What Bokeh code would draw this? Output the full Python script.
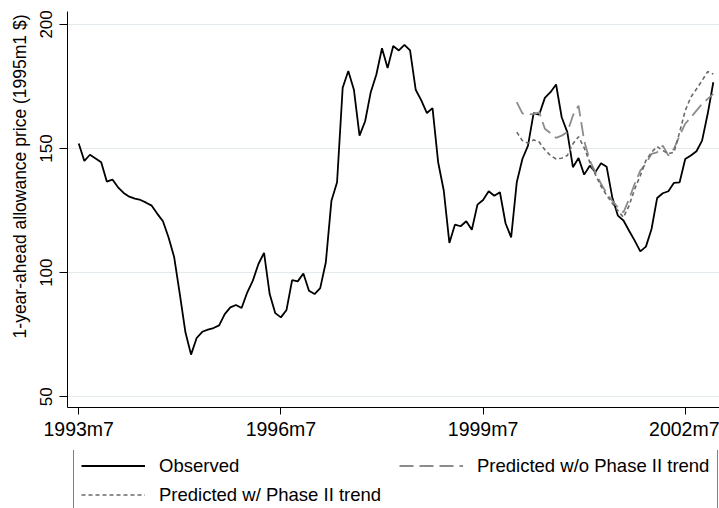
from bokeh.plotting import figure
from bokeh.layouts import column
from bokeh.models import Range1d, FixedTicker, Legend, LegendItem, Title
from bokeh.embed import file_html
from bokeh.resources import INLINE

# Monthly index (Stata %tm): 1993m7 = 402
start_month = 402
observed = [
    152.0, 145.0, 147.5, 146.0, 144.5, 136.7, 137.5, 134.4, 132.1, 130.6,
    129.8, 129.3, 128.2, 127.0, 123.7, 120.7, 114.2, 106.2, 91.4, 76.0,
    67.0, 73.7, 76.2, 77.1, 77.7, 78.8, 83.3, 86.0, 87.0, 85.8,
    92.0, 96.8, 103.5, 108.0, 91.4, 83.7, 82.0, 85.0, 97.0, 96.5,
    99.7, 92.7, 91.4, 93.8, 104.2, 129.0, 136.4, 174.5, 181.2, 173.7,
    155.2, 161.0, 172.7, 179.8, 190.4, 182.4, 191.3, 189.5, 191.8, 189.5,
    173.7, 169.4, 164.3, 166.3, 144.5, 133.1, 112.0, 119.4, 118.7, 120.7,
    117.3, 127.4, 129.3, 132.8, 131.0, 132.4, 119.9, 114.2, 136.4, 145.8,
    151.2, 164.3, 163.7, 170.4, 172.7, 175.8, 162.6, 156.6, 142.5, 146.2,
    139.5, 143.1, 140.5, 144.1, 142.7, 130.4, 123.0, 121.0, 116.9, 112.9,
    108.6, 110.5, 117.6, 130.1, 132.0, 132.8, 136.2, 136.4, 145.8, 147.2,
    148.9, 153.2, 164.0, 176.7,
]

# Predictions start in 2000m1 (= 480)
pred_start = 480
pred_wo_trend = [
    168.7, 164.2, 163.7, 164.0, 164.6, 158.0, 156.2, 154.3, 155.2, 156.6,
    163.3, 167.3, 153.2, 145.2, 140.5, 135.8, 132.0, 129.0, 126.3, 124.3,
    129.7, 135.8, 141.1, 143.9, 147.9, 148.5, 151.2, 147.2, 150.0, 155.2,
    160.0, 162.6, 165.3, 168.0, 170.0, 172.0,
]
pred_w_trend = [
    156.6, 153.2, 152.2, 153.5, 152.6, 149.5, 147.2, 145.8, 146.1, 147.2,
    151.9, 154.8, 150.3, 144.5, 139.5, 134.8, 131.2, 128.0, 125.0, 122.3,
    127.0, 133.7, 139.1, 145.2, 148.5, 150.8, 149.2, 147.9, 148.5, 156.6,
    165.3, 170.7, 174.0, 177.4, 181.0, 180.0,
]

x_ticks = [402, 438, 474, 510]
x_tick_labels = ["1993m7", "1996m7", "1999m7", "2002m7"]
y_ticks = [50, 100, 150, 200]
y_title = "1-year-ahead allowance price (1995m1 $)"
series_labels = ["Observed", "Predicted w/o Phase II trend", "Predicted w/ Phase II trend"]

months_obs = list(range(start_month, start_month + len(observed)))
months_pred = list(range(pred_start, pred_start + len(pred_wo_trend)))
series = [(months_obs, observed), (months_pred, pred_wo_trend), (months_pred, pred_w_trend)]

FONT = "Liberation Sans"
STYLES = [
    dict(line_color="black", line_width=1.8),
    dict(line_color="#8c8c8c", line_width=1.8, line_dash="14 6"),
    dict(line_color="#6a6a6a", line_width=1.6, line_dash="4 3"),
]

# ---------------- main chart ----------------
p = figure(width=719, height=450, output_backend="svg", toolbar_location=None,
           x_range=Range1d(400.0, 516.1), y_range=Range1d(45.7, 205.2),
           min_border_left=67, min_border_right=0, min_border_top=11,
           min_border_bottom=43)
p.outline_line_color = None
p.background_fill_color = "white"
p.border_fill_color = "white"

for (xs, ys), st in zip(series, STYLES):
    p.line(xs, ys, **st)

p.xaxis.ticker = FixedTicker(ticks=x_ticks)
p.xaxis.major_label_overrides = {t: l for t, l in zip(x_ticks, x_tick_labels)}
p.xaxis.minor_tick_line_color = None
p.xaxis.major_tick_out = 7
p.xaxis.major_tick_in = 0
p.xaxis.major_label_standoff = 3
p.xaxis.major_label_text_font = FONT
p.xaxis.major_label_text_font_size = "19.5px"
p.xaxis.major_label_text_color = "black"
p.xaxis.axis_line_color = "black"
p.xaxis.major_tick_line_color = "black"

p.yaxis.ticker = FixedTicker(ticks=y_ticks)
p.yaxis.minor_tick_line_color = None
p.yaxis.major_tick_out = 8
p.yaxis.major_tick_in = 0
p.yaxis.major_label_standoff = 7
p.yaxis.major_label_orientation = "vertical"
p.yaxis.major_label_text_font = FONT
p.yaxis.major_label_text_font_size = "17px"
p.yaxis.major_label_text_color = "black"
p.yaxis.axis_line_color = "black"
p.yaxis.major_tick_line_color = "black"

ytitle = Title(text=y_title, align="right", offset=3, standoff=15,
               text_font=FONT, text_font_size="17.5px",
               text_font_style="normal", text_color="black")
p.add_layout(ytitle, "left")

p.xgrid.visible = False
p.ygrid.ticker = FixedTicker(ticks=y_ticks)
p.ygrid.grid_line_color = "#e3ebee"
p.ygrid.grid_line_width = 1

# ---------------- legend strip ----------------
lg = figure(width=719, height=58, output_backend="svg", toolbar_location=None,
            x_axis_type=None, y_axis_type=None,
            x_range=Range1d(0, 1), y_range=Range1d(0, 1),
            min_border_left=67, min_border_right=0, min_border_top=0,
            min_border_bottom=0)
lg.outline_line_color = None
lg.background_fill_color = "white"
lg.border_fill_color = "white"
lg.grid.visible = False

# key renderers use the series data, which lies outside this strip's ranges
key_renderers = [lg.line(xs, ys, **st) for (xs, ys), st in zip(series, STYLES)]

legend = Legend(
    items=[LegendItem(label=lab, renderers=[r]) for lab, r in zip(series_labels, key_renderers)],
    orientation="horizontal", ncols=2, location=(6, -5.5),
    label_text_font=FONT, label_text_font_size="18.5px",
    label_text_color="black",
    glyph_width=64, glyph_height=21, label_height=21, label_width=233,
    label_standoff=14, padding=7, spacing=7, margin=0,
    border_line_color="black", border_line_width=1,
    background_fill_color="white", background_fill_alpha=1.0,
)
lg.add_layout(legend, "center")

layout = column(p, lg, spacing=0)
open("out.html", "w").write(file_html(layout, INLINE))
